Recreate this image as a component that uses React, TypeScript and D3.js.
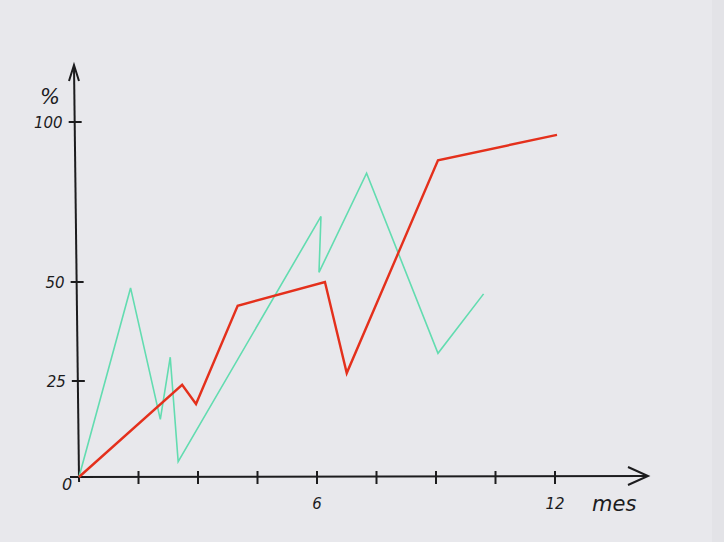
import * as d3 from "d3";

// months on the x axis, percent on the y axis
const redMonths = [0, 2.6, 2.95, 4.0, 6.2, 6.75, 9.05, 12.05];
const redValues = [0, 24, 19, 44, 50, 27, 88, 96];

const greenMonths = [0, 1.3, 2.05, 2.3, 2.5, 6.1, 6.05, 7.25, 9.05, 10.2];
const greenValues = [0, 48.5, 15, 31, 4, 70.5, 53, 84, 32, 47];

const xTicks = [0, 1.5, 3, 4.5, 6, 7.5, 9, 10.5, 12];
const xTickLabels = ["0", "", "", "", "6", "", "", "", "12"];
const yTicks = [25, 50, 100];
const yTickLabels = ["25", "50", "100"];

const W = 724;
const H = 542;
const ink = "#1c1c1e";
const hand = "'DejaVu Sans', sans-serif";

export default function App() {
  const x = d3.scaleLinear().domain([0, 12]).range([79, 555]);
  // hand drawn ticks are not evenly spaced
  const y = d3.scaleLinear().domain([0, 25, 50, 100]).range([477, 381, 282, 122]);

  // the y axis leans a little to the left
  const axisX = (py: number) => 79 - ((477 - py) * 5) / 411;

  const line = d3
    .line<[number, number]>()
    .x((d) => x(d[0]))
    .y((d) => y(d[1]));

  const red = redMonths.map((m, i) => [m, redValues[i]] as [number, number]);
  const green = greenMonths.map((m, i) => [m, greenValues[i]] as [number, number]);

  const y0 = y(0);
  const xEnd = 648;
  const yTop = 65;

  return (
    <svg
      width={W}
      height={H}
      style={{ position: "absolute", left: 0, top: 0, display: "block" }}
    >
      <rect width={W} height={H} fill="#e8e8ec" />
      <rect x={712} width={W - 712} height={H} fill="#e3e3e7" />

      {/* axes */}
      <line x1={axisX(482)} y1={482} x2={axisX(yTop)} y2={yTop} stroke={ink} strokeWidth={2} />
      <path
        d={`M${axisX(yTop) - 5},${yTop + 16}L${axisX(yTop)},${yTop}L${axisX(yTop) + 5},${yTop + 16}`}
        fill="none"
        stroke={ink}
        strokeWidth={2}
      />
      <line x1={70} y1={y0} x2={xEnd} y2={y0 - 1} stroke={ink} strokeWidth={2} />
      <path
        d={`M${xEnd - 20},${y0 - 10}L${xEnd},${y0 - 1}L${xEnd - 20},${y0 + 8}`}
        fill="none"
        stroke={ink}
        strokeWidth={2}
      />

      {/* y ticks */}
      {yTicks.map((t, i) => (
        <g key={"y" + t}>
          <line
            x1={axisX(y(t)) - 6}
            x2={axisX(y(t)) + 7}
            y1={y(t)}
            y2={y(t)}
            stroke={ink}
            strokeWidth={2}
          />
          <text
            x={axisX(y(t)) - 12}
            y={y(t) + 6}
            textAnchor="end"
            fontFamily={hand}
            fontStyle="italic"
            fontSize={15}
            fill={ink}
          >
            {yTickLabels[i]}
          </text>
        </g>
      ))}

      {/* x ticks */}
      {xTicks.map((t, i) => (
        <g key={"x" + t}>
          {t > 0 && (
            <line x1={x(t)} x2={x(t)} y1={y0 - 6} y2={y0 + 7} stroke={ink} strokeWidth={2} />
          )}
          {t > 0 && xTickLabels[i] && (
            <text
              x={x(t)}
              y={y0 + 32}
              textAnchor="middle"
              fontFamily={hand}
              fontStyle="italic"
              fontSize={15}
              fill={ink}
            >
              {xTickLabels[i]}
            </text>
          )}
        </g>
      ))}
      <text x={62} y={y0 + 13} fontFamily={hand} fontStyle="italic" fontSize={16} fill={ink}>
        0
      </text>

      <text x={40} y={104} fontFamily={hand} fontStyle="italic" fontSize={21} fill={ink}>
        %
      </text>
      <text x={592} y={511} fontFamily={hand} fontStyle="italic" fontSize={21} fill={ink}>
        mes
      </text>

      {/* series */}
      <path d={line(green) || ""} fill="none" stroke="#62dcb0" strokeWidth={1.6} strokeLinejoin="miter" />
      <path d={line(red) || ""} fill="none" stroke="#e4301c" strokeWidth={2.4} strokeLinejoin="miter" />
    </svg>
  );
}
